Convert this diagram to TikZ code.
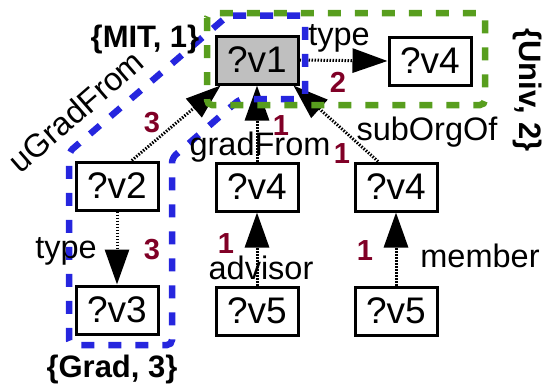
\documentclass[tikz,border=0pt]{standalone}
\usepackage{fontspec}
\setmainfont{Liberation Sans}
\usetikzlibrary{arrows.meta, calc}
\definecolor{cntred}{RGB}{128,0,38}
\definecolor{grpblue}{RGB}{38,38,222}
\definecolor{grpgreen}{RGB}{88,158,30}

\begin{document}
\begin{tikzpicture}[x=1pt, y=-1pt,
  block/.style={draw, rectangle, line width=3pt, minimum width=82pt, minimum height=48pt, inner sep=0pt, font=\fontsize{37}{40}\selectfont},
  edge/.style={line width=3pt, dash pattern=on 1.5pt off 1.5pt, -{Triangle[length=35pt, width=24pt]}},
  elabel/.style={anchor=base, font=\fontsize{32.5}{35}\selectfont},
  count/.style={anchor=base, text=cntred, font=\fontsize{29}{31}\selectfont\bfseries},
  group/.style={line width=6.5pt, dash pattern=on 13pt off 14pt, rounded corners=5pt},
  glabel/.style={font=\fontsize{31}{34}\selectfont\bfseries}]
\useasboundingbox (0,0) rectangle (544,391);

\node[block, fill=black!25] (v1) at (257,60) {?v1};
\node[block] (v4t) at (430,61) {?v4};
\node[block] (v2) at (117,186) {?v2};
\node[block] (v3) at (117,310) {?v3};
\node[block] (v4m) at (257,187) {?v4};
\node[block] (v5m) at (257,311) {?v5};
\node[block] (v4r) at (396,187) {?v4};
\node[block] (v5r) at (396,311) {?v5};

\draw[edge] (v2.60) -- (v1.-145);
\draw[edge] (v4m.north) -- (v1.south);
\draw[edge] (v4r.125) -- (v1.-35);
\draw[edge] (v1.east) -- (v4t.west);
\draw[edge] (v2.south) -- (v3.north);
\draw[edge] (v5m.north) -- (v4m.south);
\draw[edge] (v5r.north) -- (v4r.south);

\draw[group, grpblue] (228,15.5) -- (305,15.5) -- (305,99) -- (240,99) -- (172,158) -- (172,345) -- (69,345) -- (69,152) -- cycle;
\draw[group, grpgreen] (207,13) rectangle (485,105);

\node[elabel] (lt1) at (339,45) {type};
\node[count] (c2) at (338,92) {2};
\node[elabel, anchor=center, rotate=41] (lug) at (76,111) {uGradFrom};
\node[count] (c3a) at (152,132) {3};
\node[elabel] (lgf) at (260,155) {gradFrom};
\node[count] (c1a) at (281,135) {1};
\node[elabel] (lso) at (427,140) {subOrgOf};
\node[count] (c1b) at (342,163) {1};
\node[elabel] (lt2) at (66,258) {type};
\node[count] (c3b) at (152,259) {3};
\node[count] (c1c) at (226,253) {1};
\node[elabel] (ladv) at (261,279) {advisor};
\node[count] (c1d) at (365,260) {1};
\node[elabel] (lmem) at (480,267) {member};
\node[glabel, anchor=base] (gmit) at (145,47) {\{MIT, 1\}};
\node[glabel, anchor=base] (ggrad) at (112,377) {\{Grad, 3\}};
\node[glabel, rotate=-90] (guniv) at (528,90) {\{Univ, 2\}};
\end{tikzpicture}
\end{document}
